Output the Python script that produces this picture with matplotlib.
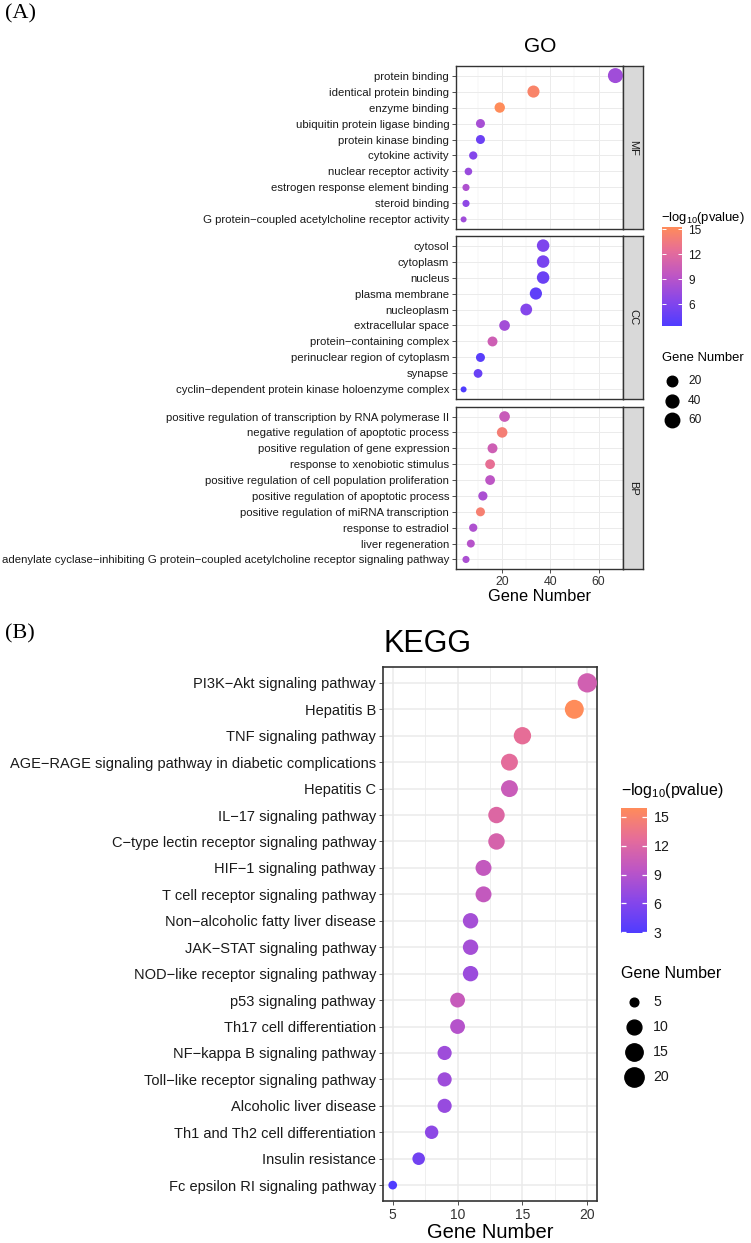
import numpy as np
import matplotlib
import matplotlib.pyplot as plt
from matplotlib.colors import LinearSegmentedColormap, Normalize
from matplotlib.cm import ScalarMappable
from matplotlib.lines import Line2D

matplotlib.use('Agg')

plt.rcParams['font.family'] = ['Liberation Sans', 'DejaVu Sans']
plt.rcParams['mathtext.fontset'] = 'custom'
plt.rcParams['mathtext.rm'] = 'Liberation Sans'
plt.rcParams['mathtext.it'] = 'Liberation Sans:italic'

# ---- GO data (top row first) ----
mf_terms = ["protein binding", "identical protein binding", "enzyme binding",
            "ubiquitin protein ligase binding", "protein kinase binding", "cytokine activity",
            "nuclear receptor activity", "estrogen response element binding", "steroid binding",
            "G protein−coupled acetylcholine receptor activity"]
mf_count = [67, 33, 19, 11, 11, 8, 6, 5, 5, 4]
mf_logp = [7.8, 14.6, 15.3, 8.2, 5.0, 6.3, 7.4, 8.6, 6.8, 7.8]

cc_terms = ["cytosol", "cytoplasm", "nucleus", "plasma membrane", "nucleoplasm",
            "extracellular space", "protein−containing complex", "perinuclear region of cytoplasm",
            "synapse", "cyclin−dependent protein kinase holoenzyme complex"]
cc_count = [37, 37, 37, 34, 30, 21, 16, 11, 10, 4]
cc_logp = [6.0, 5.7, 4.9, 4.2, 6.3, 8.0, 10.6, 4.0, 4.8, 3.4]

bp_terms = ["positive regulation of transcription by RNA polymerase II",
            "negative regulation of apoptotic process", "positive regulation of gene expression",
            "response to xenobiotic stimulus", "positive regulation of cell population proliferation",
            "positive regulation of apoptotic process", "positive regulation of miRNA transcription",
            "response to estradiol", "liver regeneration",
            "adenylate cyclase−inhibiting G protein−coupled acetylcholine receptor signaling pathway"]
bp_count = [21, 20, 16, 15, 15, 12, 11, 8, 7, 5]
bp_logp = [10.2, 14.0, 10.6, 12.6, 9.4, 8.4, 14.2, 8.6, 9.0, 8.4]

# ---- KEGG data (top row first) ----
kegg_terms = ["PI3K−Akt signaling pathway", "Hepatitis B", "TNF signaling pathway",
              "AGE−RAGE signaling pathway in diabetic complications", "Hepatitis C",
              "IL−17 signaling pathway", "C−type lectin receptor signaling pathway",
              "HIF−1 signaling pathway", "T cell receptor signaling pathway",
              "Non−alcoholic fatty liver disease", "JAK−STAT signaling pathway",
              "NOD−like receptor signaling pathway", "p53 signaling pathway",
              "Th17 cell differentiation", "NF−kappa B signaling pathway",
              "Toll−like receptor signaling pathway", "Alcoholic liver disease",
              "Th1 and Th2 cell differentiation", "Insulin resistance",
              "Fc epsilon RI signaling pathway"]
kegg_count = [20, 19, 15, 14, 14, 13, 13, 12, 12, 11, 11, 11, 10, 10, 9, 9, 9, 8, 7, 5]
kegg_logp = [11.0, 15.95, 12.8, 12.6, 10.4, 12.0, 11.4, 10.0, 10.0, 8.0, 8.0, 7.4,
             10.2, 9.0, 7.6, 7.6, 7.2, 6.6, 5.0, 2.9]

W, H = 751, 1243
fig = plt.figure(figsize=(W / 100, H / 100), dpi=100)

cmap = LinearSegmentedColormap.from_list(
    "pv", ["#4F3CFF", "#8646EA", "#BC55C6", "#E56C9A", "#FF8C5A"])


def rect(x0, y0, x1, y1):
    # pixel box -> figure fraction
    return [x0 / W, 1 - y1 / H, (x1 - x0) / W, (y1 - y0) / H]


def style_axis(ax, lw_major, lw_minor, fs, border_lw):
    ax.set_facecolor('white')
    ax.grid(True, which='major', color='#EBEBEB', lw=lw_major, zorder=0)
    ax.grid(True, which='minor', axis='x', color='#EBEBEB', lw=lw_minor, zorder=0)
    ax.set_axisbelow(True)
    for s in ax.spines.values():
        s.set_color('#333333')
        s.set_linewidth(border_lw)
    ax.tick_params(which='major', length=2.75, width=0.6, color='#333333',
                   labelsize=fs, labelcolor='#1A1A1A', pad=2.2)
    ax.tick_params(which='minor', length=0)


# ================= GO =================
go_all = mf_count + cc_count + bp_count
go_lp = mf_logp + cc_logp + bp_logp
go_norm = Normalize(min(go_lp), max(go_lp))
cmin, cmax = min(go_all), max(go_all)


def go_size(v):
    d_px = 6 + 9 * np.sqrt((np.asarray(v, float) - cmin) / (cmax - cmin))
    return d_px * 0.72


pad = 0.05 * (cmax - cmin)
panels = [("MF", mf_terms, mf_count, mf_logp, 66, 229),
          ("CC", cc_terms, cc_count, cc_logp, 236, 399),
          ("BP", bp_terms, bp_count, bp_logp, 407, 569)]
for i, (name, terms, cnt, lp, top, bot) in enumerate(panels):
    ax = fig.add_axes(rect(456, top, 623, bot))
    n = len(terms)
    y = np.arange(n)
    ax.scatter(cnt, y, s=go_size(cnt) ** 2, c=lp, cmap=cmap, norm=go_norm,
               edgecolors='none', zorder=3, clip_on=False)
    ax.set_ylim(n - 1 + 0.6, -0.6)
    ax.set_xlim(cmin - pad, cmax + pad)
    ax.set_yticks(y)
    ax.set_yticklabels(terms)
    ax.set_xticks([20, 40, 60])
    ax.set_xticks([10, 30, 50], minor=True)
    style_axis(ax, 0.7, 0.35, 8.2, 1.0)
    if i < 2:
        ax.tick_params(axis='x', which='both', bottom=False, labelbottom=False)
    else:
        ax.tick_params(axis='x', labelsize=8.8, labelcolor='#333333')
        ax.set_xlabel("Gene Number", fontsize=11.8, labelpad=0.5)
    # facet strip
    sx = fig.add_axes(rect(623, top, 643, bot))
    sx.set_facecolor('#D9D9D9')
    sx.set_xticks([])
    sx.set_yticks([])
    for s in sx.spines.values():
        s.set_color('#333333')
        s.set_linewidth(1.0)
    sx.text(0.5, 0.5, name, rotation=270, ha='center', va='center',
            fontsize=8, color='#1A1A1A', transform=sx.transAxes)

fig.text(540 / W, 1 - 46 / H, "GO", fontsize=15, ha='center', va='center')

# GO colour legend
cax = fig.add_axes(rect(662, 227, 682, 326))
cb = fig.colorbar(ScalarMappable(norm=go_norm, cmap=cmap), cax=cax)
cb.set_ticks([6, 9, 12, 15])
cb.outline.set_visible(False)
cb.minorticks_off()
cax.tick_params(which='major', direction='in', length=2.9, width=0.7, color='white',
                left=True, right=True, labelsize=8.6, labelcolor='#1A1A1A', pad=4.5)
fig.text(661 / W, 1 - 218 / H, "−log$_{10}$(pvalue)", fontsize=9.4, ha='left', va='center')

# GO size legend
fig.text(662 / W, 1 - 358 / H, "Gene Number", fontsize=9.4, ha='left', va='center')
for v, yy in zip([20, 40, 60], [380.7, 401, 420]):
    fig.add_artist(Line2D([672 / W], [1 - yy / H], transform=fig.transFigure, marker='o',
                          markersize=float(go_size(v)), color='black', lw=0))
    fig.text(688 / W, 1 - yy / H, str(v), fontsize=8.6, ha='left', va='center', color='#1A1A1A')

# ================= KEGG =================
kmin, kmax = min(kegg_count), max(kegg_count)
k_norm = Normalize(min(kegg_logp), max(kegg_logp))


def kegg_size(v):
    d_px = 8.7 + 10.6 * np.sqrt((np.asarray(v, float) - kmin) / (kmax - kmin))
    return d_px * 0.72


ax = fig.add_axes(rect(383, 667, 597, 1201))
n = len(kegg_terms)
y = np.arange(n)
ax.scatter(kegg_count, y, s=kegg_size(kegg_count) ** 2, c=kegg_logp, cmap=cmap, norm=k_norm,
           edgecolors='none', zorder=3, clip_on=False)
kp = 0.05 * (kmax - kmin)
ax.set_xlim(kmin - kp, kmax + kp)
ax.set_ylim(n - 1 + 0.6, -0.6)
ax.set_yticks(y)
ax.set_yticklabels(kegg_terms)
ax.set_xticks([5, 10, 15, 20])
ax.set_xticks([7.5, 12.5, 17.5], minor=True)
style_axis(ax, 1.1, 0.55, 10.5, 1.2)
ax.tick_params(axis='x', labelsize=10, labelcolor='#333333')
ax.set_xlabel("Gene Number", fontsize=14.5, labelpad=0.5)
fig.text(383 / W, 1 - 644 / H, "KEGG", fontsize=22, ha='left', va='center')

cax2 = fig.add_axes(rect(621, 807.7, 646.7, 933.3))
cb2 = fig.colorbar(ScalarMappable(norm=k_norm, cmap=cmap), cax=cax2)
cb2.set_ticks([3, 6, 9, 12, 15])
cb2.outline.set_visible(False)
cb2.minorticks_off()
cax2.tick_params(which='major', direction='in', length=3.7, width=0.9, color='white',
                 left=True, right=True, labelsize=10.2, labelcolor='#1A1A1A', pad=5)
fig.text(621 / W, 1 - 790.7 / H, "−log$_{10}$(pvalue)", fontsize=11.5, ha='left', va='center')

fig.text(621 / W, 1 - 974 / H, "Gene Number", fontsize=11.5, ha='left', va='center')
for v, yy in zip([5, 10, 15, 20], [1001.7, 1026.7, 1051.7, 1076.7]):
    fig.add_artist(Line2D([634 / W], [1 - yy / H], transform=fig.transFigure, marker='o',
                          markersize=float(kegg_size(v)), color='black', lw=0))
    fig.text(653 / W, 1 - yy / H, str(v), fontsize=10.2, ha='left', va='center', color='#1A1A1A')

# panel letters
fig.text(5 / W, 1 - 13.5 / H, "(A)", fontsize=16, family='Liberation Serif', ha='left', va='center')
fig.text(5 / W, 1 - 634 / H, "(B)", fontsize=16, family='Liberation Serif', ha='left', va='center')

fig.savefig("out.png", dpi=100, facecolor='white')
